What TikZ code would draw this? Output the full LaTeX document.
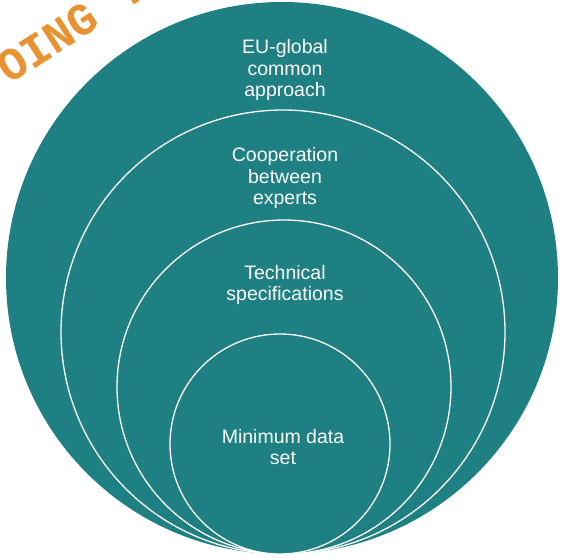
\documentclass[tikz,border=0pt]{standalone}
\usepackage{fontspec}
\setmainfont{Liberation Sans}
\newfontfamily\stampfont{Liberation Mono}
\usetikzlibrary{positioning}
\definecolor{ringteal}{RGB}{30,128,130}
\definecolor{stamporange}{RGB}{232,146,50}

\begin{document}
\begin{tikzpicture}[x=1pt,y=-1pt]
	\tikzstyle{ring}=[circle,fill=ringteal,draw=white,line width=1.3pt,inner sep=0pt]
	\tikzstyle{lbl}=[text=white,align=center,font=\fontsize{19.5}{21.5}\selectfont]
	
	\useasboundingbox (0,0) rectangle (562,557);
	\clip (0,0) rectangle (562,557);
	
	\node[ring,draw=none,minimum size=552pt] (outer)   at (282,278) {};
	\node[ring,minimum size=444pt]           (experts) at (283,332) {};
	\node[ring,minimum size=334pt]           (techspec) at (284,387) {};
	\node[ring,minimum size=220pt]           (dataset) at (280,444) {};
	
	\node[lbl] (eu)   at (285,70)  {EU-global\\common\\approach};
	\node[lbl] (coop) at (285,178) {Cooperation\\between\\experts};
	\node[lbl] (tech) at (285,285) {Technical\\specifications};
	\node[lbl] (mds)  at (283,447) {Minimum data\\set};
	
	\node[text=stamporange,font=\stampfont\fontsize{46}{46}\selectfont\bfseries,
		rotate=32.6,anchor=base west,inner sep=0pt] (stamp) at (9,85) {OING T};
\end{tikzpicture}
\end{document}
